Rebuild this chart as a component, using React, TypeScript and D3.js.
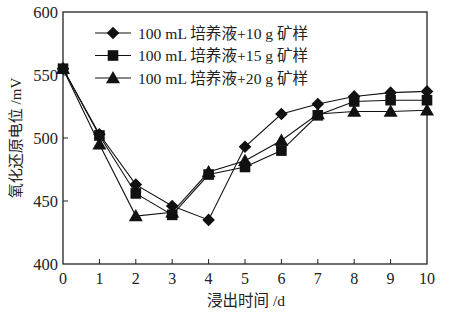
import React from "react";
import * as d3 from "d3";

const days = [0, 1, 2, 3, 4, 5, 6, 7, 8, 9, 10];
const s10 = [555, 503, 463, 446, 435, 493, 519, 527, 533, 536, 537];
const s15 = [555, 502, 456, 439, 471, 477, 490, 518, 529, 530, 530];
const s20 = [555, 495, 438, 441, 473, 482, 498, 519, 521, 521, 522];
const seriesNames = ["100 mL 培养液+10 g 矿样", "100 mL 培养液+15 g 矿样", "100 mL 培养液+20 g 矿样"];
const seriesShapes = ["diamond", "square", "triangle"];
const xTicks = [0, 1, 2, 3, 4, 5, 6, 7, 8, 9, 10];
const yTicks = [400, 450, 500, 550, 600];
const xLabel = "浸出时间 /d";
const yLabel = "氧化还原电位 /mV";

const W = 466, H = 318;
const M = { left: 63, right: 427, top: 12, bottom: 264 };
const font = "'Liberation Serif', 'Noto Sans CJK SC', serif";

function marker(shape: string, x: number, y: number, key: string) {
  if (shape === "diamond") {
    const r = 6.3;
    return <path key={key} d={`M${x},${y - r}L${x + r},${y}L${x},${y + r}L${x - r},${y}Z`} fill="#111" />;
  }
  if (shape === "square") {
    const r = 5.3;
    return <rect key={key} x={x - r} y={y - r} width={2 * r} height={2 * r} fill="#111" />;
  }
  const r = 7;
  return <path key={key} d={`M${x},${y - r}L${x + r},${y + r * 0.75}L${x - r},${y + r * 0.75}Z`} fill="#111" />;
}

export default function App() {
  const x = d3.scaleLinear().domain([0, 10]).range([M.left, M.right]);
  const y = d3.scaleLinear().domain([400, 600]).range([M.bottom, M.top]);
  const data = [s10, s15, s20];
  const line = d3.line<number>().x((_, i) => x(days[i])).y((v) => y(v));

  return (
    <svg width={W} height={H} style={{ position: "absolute", left: 0, top: 0, background: "#fff" }}>
      <rect x={M.left} y={M.top} width={M.right - M.left} height={M.bottom - M.top} fill="none" stroke="#222" strokeWidth={1.3} />
      {xTicks.map((t) => (
        <g key={"xt" + t}>
          {t > 0 && t < 10 && <line x1={x(t)} x2={x(t)} y1={M.bottom} y2={M.bottom - 5} stroke="#222" />}
          <text x={x(t)} y={M.bottom + 20} textAnchor="middle" fontFamily={font} fontSize={16} fill="#222">{t}</text>
        </g>
      ))}
      {yTicks.map((t) => (
        <g key={"yt" + t}>
          {t > 400 && t < 600 && <line x1={M.left} x2={M.left + 5} y1={y(t)} y2={y(t)} stroke="#222" />}
          <text x={M.left - 5} y={y(t) + 5.5} textAnchor="end" fontFamily={font} fontSize={16.5} fill="#222">{t}</text>
        </g>
      ))}
      <text x={246} y={306} textAnchor="middle" fontFamily={font} fontSize={15.5} fill="#222">{xLabel}</text>
      <text transform={`translate(21,${(M.top + M.bottom) / 2}) rotate(-90)`} textAnchor="middle" fontFamily={font} fontSize={15} fill="#222">{yLabel}</text>
      {data.map((s, si) => (
        <g key={"s" + si}>
          <path d={line(s) || ""} fill="none" stroke="#111" strokeWidth={1.1} />
          {s.map((v, i) => marker(seriesShapes[si], x(days[i]), y(v), `m${si}-${i}`))}
        </g>
      ))}
      {seriesNames.map((n, i) => {
        const ly = 33 + i * 22.5;
        return (
          <g key={"lg" + i}>
            <line x1={95} x2={131} y1={ly} y2={ly} stroke="#111" strokeWidth={1.1} />
            {marker(seriesShapes[i], 113, ly, "lm" + i)}
            <text x={138} y={ly + 5.5} fontFamily={font} fontSize={15.6} fill="#222">{n}</text>
          </g>
        );
      })}
    </svg>
  );
}
